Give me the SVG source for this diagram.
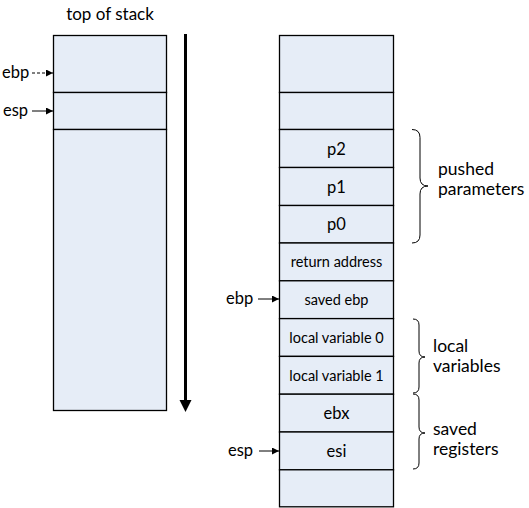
<svg xmlns="http://www.w3.org/2000/svg" width="529" height="508" viewBox="0 0 529 508">
<defs>
<style>
text{font-family:Lato,"Liberation Sans",sans-serif;fill:#000}
.cell{fill:#e6edf7;stroke:#000;stroke-width:1.3}
.c{text-anchor:middle;font-size:16.5px}
.s{text-anchor:middle;font-size:14.5px}
.r{font-size:16.5px}
.lbl{font-size:17.5px}
.brace{fill:none;stroke:#000;stroke-width:1}
.ptr{stroke:#000;stroke-width:1;fill:none}
</style>
<marker id="ah" viewBox="0 0 10 10" refX="10" refY="5" markerWidth="9" markerHeight="7" markerUnits="userSpaceOnUse" orient="auto"><path d="M0,0 L10,5 L0,10 z" fill="#000"/></marker>
</defs>
<rect width="529" height="508" fill="#fff"/>
<text x="110" y="20" text-anchor="middle" font-size="17">top of stack</text>
<g id="left-stack">
<rect class="cell" x="53.5" y="35.5" width="113" height="57"/>
<rect class="cell" x="53.5" y="92.5" width="113" height="37"/>
<rect class="cell" x="53.5" y="129.5" width="113" height="281"/>
</g>
<g id="right-stack">
<g id="r0"><rect class="cell" x="279.5" y="35.5" width="114" height="57"/></g>
<g id="r1"><rect class="cell" x="279.5" y="92.5" width="114" height="37"/></g>
<g id="r2"><rect class="cell" x="279.5" y="129.5" width="114" height="38"/><text class="c" x="336.5" y="154.5">p2</text></g>
<g id="r3"><rect class="cell" x="279.5" y="167.5" width="114" height="38"/><text class="c" x="336.5" y="192.5">p1</text></g>
<g id="r4"><rect class="cell" x="279.5" y="205.5" width="114" height="37.5"/><text class="c" x="336.5" y="230">p0</text></g>
<g id="r5"><rect class="cell" x="279.5" y="243" width="114" height="37.8"/><text class="s" x="336.5" y="266.5">return address</text></g>
<g id="r6"><rect class="cell" x="279.5" y="280.8" width="114" height="37.8"/><text class="s" x="336.5" y="304.5">saved ebp</text></g>
<g id="r7"><rect class="cell" x="279.5" y="318.6" width="114" height="37.8"/><text class="s" x="336.5" y="342.5">local variable 0</text></g>
<g id="r8"><rect class="cell" x="279.5" y="356.4" width="114" height="37.8"/><text class="s" x="336.5" y="380.5">local variable 1</text></g>
<g id="r9"><rect class="cell" x="279.5" y="394.2" width="114" height="37.8"/><text class="c" x="336.5" y="418.5">ebx</text></g>
<g id="r10"><rect class="cell" x="279.5" y="432" width="114" height="37.8"/><text class="c" x="336.5" y="456.5">esi</text></g>
<g id="r11"><rect class="cell" x="279.5" y="469.8" width="114" height="37"/></g>
</g>
<g id="labels">
<text class="r" x="2" y="78">ebp</text>
<text class="r" x="3" y="116">esp</text>
<text class="r" x="226" y="304">ebp</text>
<text class="r" x="228" y="456">esp</text>
<text class="lbl" x="438" y="175">pushed</text>
<text class="lbl" x="438" y="195">parameters</text>
<text class="lbl" x="433" y="352">local</text>
<text class="lbl" x="433" y="372">variables</text>
<text class="lbl" x="433" y="435">saved</text>
<text class="lbl" x="433" y="455">registers</text>
</g>
<g id="connectors">
<line class="ptr" x1="32" y1="73" x2="53" y2="73" stroke-dasharray="3,2" marker-end="url(#ah)"/>
<line class="ptr" x1="32" y1="111" x2="53" y2="111" marker-end="url(#ah)"/>
<line class="ptr" x1="258" y1="299" x2="279" y2="299" marker-end="url(#ah)"/>
<line class="ptr" x1="259" y1="451" x2="279" y2="451" marker-end="url(#ah)"/>
<line x1="185.5" y1="34" x2="185.5" y2="401" stroke="#000" stroke-width="3"/>
<path d="M179.5,400 L191.5,400 L185.5,412 z" fill="#000"/>
<path class="brace" d="M412,129.5 Q420,129.5 420,137.5 L420,178 Q420,186 428,186 Q420,186 420,194 L420,235 Q420,243 412,243"/>
<path class="brace" d="M413,319 Q419,319 419,325 L419,351 Q419,357 425,357 Q419,357 419,363 L419,387 Q419,393 413,393"/>
<path class="brace" d="M413,394 Q419,394 419,400 L419,427 Q419,433 425,433 Q419,433 419,439 L419,463 Q419,469 413,469"/>
</g>
</svg>
